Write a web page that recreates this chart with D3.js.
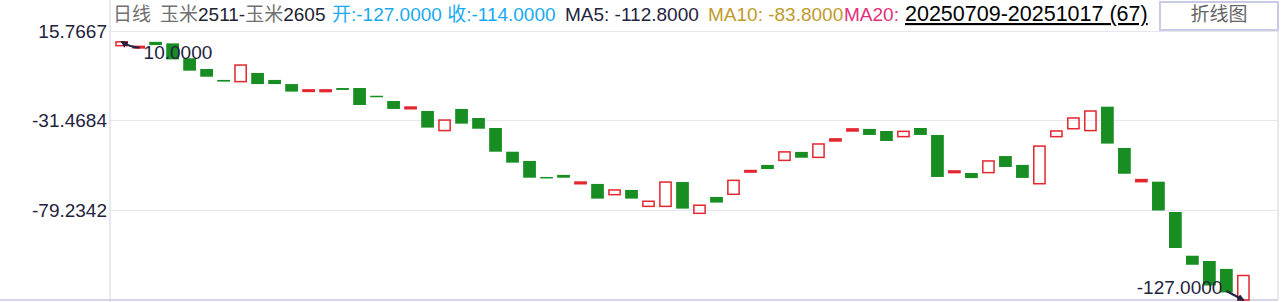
<!DOCTYPE html>
<html>
<head>
<meta charset="utf-8">
<script src="https://cdn.jsdelivr.net/npm/d3@7"></script>
<style>
  body { margin: 0; background: #fff; }
  svg { display: block; font-family: "Liberation Sans", Arial, "Noto Sans CJK SC", sans-serif; }
</style>
</head>
<body>
<svg width="1281" height="302"></svg>
<script>
// spread 玉米2511-玉米2605, daily candles 20250709-20251017
var opens = [8, 7.3, 10, 9.2, 1.3, -4.4, -10.2, -11.1, -6.5, -10.2,
  -12.4, -15.9, -16.4, -14.5, -14.5, -18.6, -21.4, -25.5, -26.7, -37.1,
  -25.6, -30.4, -35.7, -48.3, -53.2, -61.7, -60.6, -65.3, -65.4, -71.1,
  -68.6, -77.3, -77.3, -64.4, -81.0, -72.3, -70.9, -58.7, -55.3, -52.9,
  -48.4, -51.3, -42.6, -37.3, -36.2, -37.3, -40.3, -35.7, -39.4, -59.4,
  -59.6, -59.4, -50.6, -55.3, -65.3, -40.3, -36.1, -37.1, -24.4, -46.3,
  -64.2, -64.2, -80.3, -103.5, -106.3, -110.5, -127];
var closes = [10, 7.6, 8.3, 0.7, -5.3, -8.5, -11.1, -2.3, -12.4, -12.4,
  -16.4, -15.5, -15.5, -15.5, -23.5, -19.1, -25.6, -24.6, -35.5, -31.5,
  -33.4, -36.1, -48.3, -54.1, -62.1, -62.2, -62.1, -64.4, -73.2, -68.6,
  -73.2, -74.6, -64.4, -78.5, -76.7, -75.3, -63.5, -58.3, -57.5, -48.4,
  -51.5, -44.2, -41.5, -36.2, -39.4, -42.6, -37.5, -39.4, -61.7, -58.5,
  -62.3, -53.2, -56.4, -62.2, -45.3, -37.3, -30.4, -26.7, -44, -60,
  -63.1, -79.5, -99.4, -108.3, -119.3, -123, -114];
var yTicks = [15.7667, -31.4684, -79.2342];
var yMin = -127, yMax = 15.7667;
var ma5 = -112.8, ma10 = -83.8;
var dateRange = "20250709-20251017";

function main() {
  var svg = d3.select("svg");
  var left = 110, right = 1278, plotTop = 31, plotBottom = 300;

  var x = d3.scaleBand().domain(d3.range(opens.length)).range([111, 1254]).padding(0.25);
  var y = d3.scaleLinear().domain([yMin, yMax]).range([plotBottom, plotTop]);

  var green = "#188e22", red = "#e3262f", navy = "#1f2340", grid = "#e6e6f2";

  // grid lines
  svg.append("g").attr("transform", "translate(" + left + ",0)")
    .call(d3.axisLeft(y).tickValues(yTicks).tickSize(-(right - left)).tickFormat(""))
    .call(function (g) { g.select(".domain").remove(); })
    .selectAll("line").attr("stroke", grid);

  // frame
  svg.append("line").attr("x1", left).attr("x2", left).attr("y1", 0).attr("y2", 302).attr("stroke", "#e0e0ee").attr("stroke-width", 1.5);
  svg.append("line").attr("x1", right).attr("x2", right).attr("y1", plotTop).attr("y2", plotBottom).attr("stroke", "#e0e0ee").attr("stroke-width", 1.5);
  svg.append("line").attr("x1", 0).attr("x2", right).attr("y1", plotBottom).attr("y2", plotBottom).attr("stroke", "#d6d6e8").attr("stroke-width", 2);

  // y labels
  var ya = svg.append("g").attr("transform", "translate(" + (left - 3) + ",0)")
    .call(d3.axisLeft(y).tickValues(yTicks).tickSize(0).tickPadding(0).tickFormat(function (d) { return d.toFixed(4); }));
  ya.select(".domain").remove();
  ya.selectAll("text").attr("font-size", 19).attr("fill", navy).attr("font-family", "Liberation Sans, Arial, sans-serif");

  // candles
  var idx = d3.range(opens.length);
  svg.append("g").selectAll("rect").data(idx).enter().append("rect")
    .attr("x", function (i) { return x(i) + (closes[i] >= opens[i] ? 0.75 : 0); })
    .attr("width", function (i) { return x.bandwidth() - (closes[i] >= opens[i] ? 1.5 : 0); })
    .attr("y", function (i) { return y(Math.max(opens[i], closes[i])); })
    .attr("height", function (i) { return Math.max(1.5, Math.abs(y(opens[i]) - y(closes[i]))); })
    .attr("fill", function (i) {
      if (closes[i] < opens[i]) return green;
      return Math.abs(y(opens[i]) - y(closes[i])) < 3 ? red : "none";
    })
    .attr("stroke", function (i) { return closes[i] >= opens[i] ? red : "none"; })
    .attr("stroke-width", 1.5);

  // max / min markers
  svg.append("defs").append("marker").attr("id", "arr").attr("viewBox", "0 0 10 10")
    .attr("refX", 8).attr("refY", 5).attr("markerWidth", 3.5).attr("markerHeight", 3.5).attr("orient", "auto")
    .append("path").attr("d", "M0,0L10,5L0,10z").attr("fill", navy);

  var iMax = d3.maxIndex(idx, function (i) { return Math.max(opens[i], closes[i]); });
  var iMin = d3.minIndex(idx, function (i) { return Math.min(opens[i], closes[i]); });
  var vMax = Math.max(opens[iMax], closes[iMax]), vMin = Math.min(opens[iMin], closes[iMin]);
  var cx = function (i) { return x(i) + x.bandwidth() / 2; };

  svg.append("path").attr("d", "M" + (cx(iMax) + 18) + "," + (y(vMax) + 6) + "Q" + (cx(iMax) + 8) + "," + (y(vMax) + 5) + " " + cx(iMax) + "," + y(vMax))
    .attr("fill", "none").attr("stroke", navy).attr("stroke-width", 2).attr("marker-end", "url(#arr)");
  svg.append("text").attr("x", cx(iMax) + 22).attr("y", y(vMax) + 17).attr("font-size", 19).attr("fill", navy).text(vMax.toFixed(4));

  svg.append("path").attr("d", "M" + (cx(iMin) - 17) + "," + (y(vMin) - 9) + "L" + cx(iMin) + "," + y(vMin))
    .attr("fill", "none").attr("stroke", navy).attr("stroke-width", 2).attr("marker-end", "url(#arr)");
  svg.append("text").attr("x", cx(iMin) - 21).attr("y", y(vMin) - 6).attr("text-anchor", "end").attr("font-size", 19).attr("fill", navy).text(vMin.toFixed(4));

  // header
  var last = opens.length - 1;
  var hy = 21;
  var h1 = svg.append("text").attr("x", 113).attr("y", hy).attr("font-size", 19);
  h1.append("tspan").attr("fill", "#707070").text("日线");
  var h2 = svg.append("text").attr("x", 160).attr("y", hy).attr("font-size", 19);
  h2.append("tspan").attr("fill", "#707070").text("玉米");
  h2.append("tspan").attr("fill", "#222233").text("2511-");
  h2.append("tspan").attr("fill", "#707070").text("玉米");
  h2.append("tspan").attr("fill", "#222233").text("2605");
  svg.append("text").attr("x", 332).attr("y", hy).attr("font-size", 19).attr("fill", "#18aaf0")
    .text("开:" + opens[last].toFixed(4) + " 收:" + closes[last].toFixed(4));
  svg.append("text").attr("x", 565).attr("y", hy).attr("font-size", 19).attr("fill", navy).text("MA5: " + ma5.toFixed(4));
  svg.append("text").attr("x", 708).attr("y", hy).attr("font-size", 19).attr("fill", "#bf9a2a").text("MA10: " + ma10.toFixed(4));
  svg.append("text").attr("x", 844).attr("y", hy).attr("font-size", 19).attr("fill", "#e2307c").text("MA20:");
  svg.append("text").attr("x", 905).attr("y", hy).attr("font-size", 21.5).attr("fill", "#000")
    .attr("text-decoration", "underline").text(dateRange + " (" + opens.length + ")");

  svg.append("rect").attr("x", 1160).attr("y", 2).attr("width", 118).attr("height", 28)
    .attr("fill", "#fff").attr("stroke", "#cacae4").attr("stroke-width", 2);
  svg.append("text").attr("x", 1219).attr("y", hy).attr("text-anchor", "middle").attr("font-size", 19).attr("fill", "#666").text("折线图");
}
main();
</script>
</body>
</html>
